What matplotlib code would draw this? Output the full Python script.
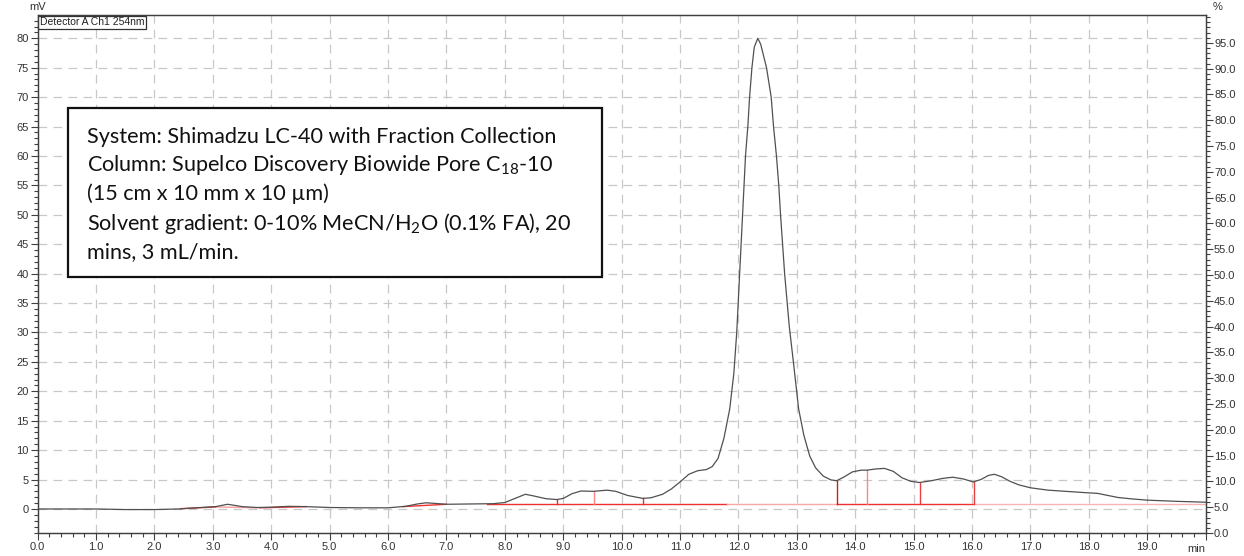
import matplotlib
matplotlib.use("Agg")
import matplotlib.pyplot as plt
from matplotlib.patches import Rectangle
from matplotlib.ticker import MultipleLocator, FormatStrFormatter, FuncFormatter

# chromatogram trace, Detector A Ch1 254nm (time in min, signal in mV)
time_min = [
    0.0, 0.5, 1.0, 1.5, 2.0, 2.4, 2.8, 3.05, 3.15, 3.25, 3.35, 3.5, 3.75,
    4.0, 4.3, 4.6, 5.0, 5.5, 6.0, 6.3, 6.5, 6.65, 6.8, 7.0, 7.4, 7.8,
    8.0, 8.15, 8.35, 8.5, 8.7, 8.89, 9.0, 9.15, 9.3, 9.52, 9.75, 9.9,
    10.1, 10.36, 10.5, 10.7, 10.85, 11.0, 11.15, 11.3, 11.45, 11.55,
    11.65, 11.75, 11.85, 11.92, 11.97, 12.02, 12.07, 12.12, 12.16, 12.19,
    12.23, 12.27, 12.33, 12.38, 12.43, 12.48, 12.56, 12.60, 12.65, 12.69,
    12.72, 12.79, 12.87, 12.94, 13.03, 13.12, 13.22, 13.32, 13.45, 13.58,
    13.68, 13.8, 13.95, 14.1, 14.2, 14.35, 14.5, 14.65, 14.8, 14.95,
    15.1, 15.3, 15.5, 15.67, 15.85, 16.02, 16.15, 16.28, 16.38, 16.5,
    16.65, 16.8, 17.0, 17.3, 17.6, 17.9, 18.15, 18.3, 18.5, 18.75,
    19.0, 19.5, 20.0,
]
signal_mv = [
    0.0, 0.0, 0.0, -0.1, -0.1, 0.0, 0.25, 0.4, 0.6, 0.8, 0.65, 0.4, 0.25,
    0.3, 0.45, 0.4, 0.25, 0.2, 0.2, 0.45, 0.85, 1.05, 0.95, 0.8, 0.85, 0.9,
    1.1, 1.7, 2.5, 2.2, 1.75, 1.6, 1.8, 2.6, 3.05, 3.0, 3.2, 3.0,
    2.3, 1.8, 1.9, 2.5, 3.4, 4.6, 5.9, 6.5, 6.7, 7.2,
    8.6, 12.0, 17.0, 23.0, 30.0, 40.0, 50.0, 60.0, 65.0, 70.0,
    75.0, 78.5, 80.0, 79.0, 77.0, 75.0, 70.0, 65.0, 60.0, 55.0,
    50.0, 40.0, 31.0, 25.0, 17.0, 12.5, 9.0, 7.0, 5.6, 4.95,
    4.8, 5.4, 6.3, 6.6, 6.6, 6.8, 6.9, 6.4, 5.3, 4.7,
    4.5, 4.8, 5.2, 5.4, 5.1, 4.6, 5.0, 5.7, 5.9, 5.5,
    4.7, 4.1, 3.6, 3.2, 3.0, 2.8, 2.65, 2.35, 1.95, 1.7,
    1.5, 1.3, 1.15,
]

# integration baselines: (t0, mV0, t1, mV1, colour)
baseline_segments = [
    (2.45, 0.05, 3.05, 0.35, "#f03030"),
    (3.05, 0.35, 3.75, 0.2, "#f8a0a0"),
    (3.8, 0.2, 4.6, 0.4, "#f03030"),
    (6.25, 0.4, 7.0, 0.8, "#f03030"),
    (7.7, 0.92, 11.8, 0.92, "#f03030"),
    (11.8, 0.92, 13.68, 0.92, "#f8a8a8"),
    (13.68, 0.92, 16.04, 0.92, "#f03030"),
    (16.04, 0.92, 20.0, 0.92, "#f8b4b4"),
]
# peak boundaries dropped to the baseline
drop_times = [8.89, 9.53, 10.37, 13.68, 14.2, 15.1, 16.04]
drop_tops = [1.6, 3.0, 1.8, 4.8, 6.6, 4.5, 4.6]
drop_colors = ["#e03030", "#f88888", "#e03030", "#c82020", "#f88888", "#e84040", "#e84040"]

info_lines = [
    "System: Shimadzu LC-40 with Fraction Collection",
    "Column: Supelco Discovery Biowide Pore C$_{18}$-10",
    "(15 cm x 10 mm x 10 \u00b5m)",
    "Solvent gradient: 0-10% MeCN/H$_{2}$O (0.1% FA), 20",
    "mins, 3 mL/min.",
]

plt.rcParams["font.family"] = ["Liberation Sans", "DejaVu Sans"]
plt.rcParams["mathtext.fontset"] = "custom"
plt.rcParams["mathtext.rm"] = "Lato"
plt.rcParams["mathtext.it"] = "Lato"
plt.rcParams["mathtext.default"] = "rm"

fig = plt.figure(figsize=(12.44, 5.56), dpi=100)
ax = fig.add_axes([0.0303, 0.0414, 0.9389, 0.9316])
ax2 = ax.twinx()

ax.set_xlim(0, 20)
ax.set_ylim(-4.08, 83.96)
ax2.set_ylim(0, 100.4)

grid_kw = dict(color="#c8c8c8", lw=0.9, dashes=(7, 5), zorder=0)
for t in range(1, 20):
    ax.axvline(t, **grid_kw)
for v in range(0, 85, 5):
    ax.axhline(v, **grid_kw)

for t0, v0, t1, v1, c in baseline_segments:
    ax.plot([t0, t1], [v0, v1], color=c, lw=1.0, zorder=2)
for t, top, c in zip(drop_times, drop_tops, drop_colors):
    ax.plot([t, t], [0.92, top], color=c, lw=1.0, zorder=2)

ax.plot(time_min, signal_mv, color="#505050", lw=0.9, zorder=3)

# axes styling
for a in (ax, ax2):
    for s in a.spines.values():
        s.set_color("#404040")
        s.set_linewidth(0.9)

ax.xaxis.set_major_locator(MultipleLocator(1))
ax.xaxis.set_minor_locator(MultipleLocator(0.2))
ax.xaxis.set_major_formatter(FuncFormatter(lambda v, p: "" if v > 19.5 else "%.1f" % v))
ax.yaxis.set_major_locator(MultipleLocator(5))
ax.yaxis.set_minor_locator(MultipleLocator(1))
ax.yaxis.set_major_formatter(FormatStrFormatter("%d"))
ax2.yaxis.set_major_locator(MultipleLocator(5))
ax2.yaxis.set_minor_locator(MultipleLocator(1))
ax2.yaxis.set_major_formatter(FormatStrFormatter("%.1f"))

ax.tick_params(axis="both", which="major", length=5, width=0.8, color="#404040",
               labelsize=8, labelcolor="#333333", pad=1.5)
ax.tick_params(axis="both", which="minor", length=3, width=0.8, color="#404040")
ax2.tick_params(axis="y", which="major", length=5, width=0.8, color="#404040",
                labelsize=8, labelcolor="#333333", pad=1)
ax2.tick_params(axis="y", which="minor", length=3, width=0.8, color="#404040")

ax.set_yticks(range(0, 85, 5))
ax2.set_yticks(range(0, 100, 5))

ax.text(0.0, 1.005, "mV", transform=ax.transAxes, ha="center", va="bottom",
        fontsize=8, color="#333333")
ax2.text(1.01, 1.005, "%", transform=ax2.transAxes, ha="center", va="bottom",
         fontsize=8, color="#333333")
ax.text(1.0, -0.022, "min", transform=ax.transAxes, ha="right", va="top",
        fontsize=8, color="#333333")

ax.text(0.002, 0.996, "Detector A Ch1 254nm", transform=ax.transAxes,
        ha="left", va="top", fontsize=7.5, color="#222222", zorder=6,
        bbox=dict(boxstyle="square,pad=0.15", fc="white", ec="#333333", lw=0.9))

# method details box
box = Rectangle((68 / 1244, 1 - 277 / 556), 534 / 1244, 169 / 556,
                transform=fig.transFigure, fc="white", ec="#111111", lw=1.6,
                zorder=5)
fig.patches.append(box)
fig.text(87 / 1244, 1 - 127 / 556, "\n".join(info_lines),
         ha="left", va="top", fontsize=15.6, family="Lato", color="#111111",
         linespacing=1.36, zorder=6)

fig.savefig("out.png", dpi=100)
